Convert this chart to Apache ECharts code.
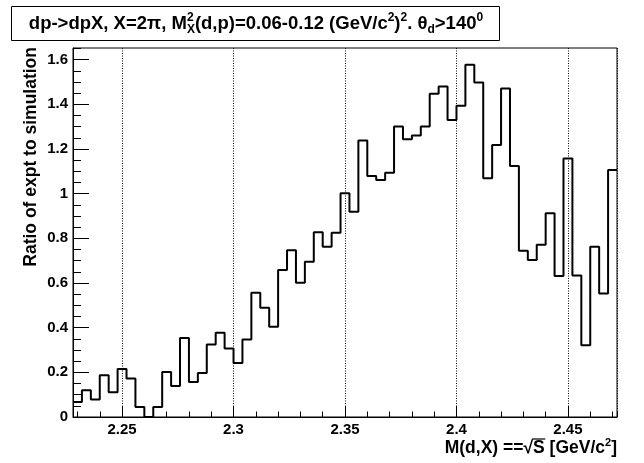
<!DOCTYPE html>
<html>
<head>
<meta charset="utf-8">
<script src="https://cdn.jsdelivr.net/npm/echarts@6/dist/echarts.min.js"></script>
<style>html,body{margin:0;padding:0;background:#fff;}#c{width:644px;height:463px;}</style>
</head>
<body>
<div id="c"></div>
<script>
// Histogram definition: range and bin width along M(d,X)
const xMin = 2.228;
const xMax = 2.472;
const binWidth = 0.004;
// Ratio of expt to simulation, one value per bin (61 bins)
const ratioValues = [
  0.067, 0.120, 0.078, 0.187, 0.111, 0.215, 0.172, 0.045, 0.000, 0.045,
  0.202, 0.139, 0.354, 0.157, 0.197, 0.325, 0.377, 0.307, 0.242, 0.347,
  0.556, 0.489, 0.404, 0.658, 0.747, 0.601, 0.695, 0.827, 0.762, 0.825,
  1.002, 0.919, 1.238, 1.079, 1.061, 1.094, 1.300, 1.244, 1.260, 1.300,
  1.447, 1.480, 1.330, 1.393, 1.577, 1.498, 1.069, 1.218, 1.471, 1.124,
  0.744, 0.703, 0.771, 0.912, 0.631, 1.157, 0.634, 0.321, 0.762, 0.553,
  1.106
];
const yMin = 0;
const yMax = 1.652;
const xLabelStep = 0.05;
const yLabelStep = 0.2;

const FONT = "'Liberation Sans', Arial, Helvetica, sans-serif";

// step line points at bin low edges, plus closing point at the upper edge
const histPoints = ratioValues.map((v, i) => [xMin + i * binWidth, v]);
histPoints.push([xMax, ratioValues[ratioValues.length - 1]]);

function isMult(v, step) {
  const r = v / step;
  return Math.abs(r - Math.round(r)) < 1e-6;
}
function fmt(v) { return String(Number(v.toFixed(3))); }

const mctx = document.createElement('canvas').getContext('2d');
function tw(txt, size) { mctx.font = 'bold ' + size + 'px ' + FONT; return mctx.measureText(txt).width; }

// title pieces: [text, size]
const T_MAIN = 18.5, T_SMALL = 12, T_CX = 256, T_CY = 24;
const titlePieces = [
  ['dp->dpX, X=2π, M', T_MAIN], ['X', T_SMALL], ['(d,p)=0.06-0.12 (GeV/c', T_MAIN], ['2', T_SMALL],
  [')', T_MAIN], ['2', T_SMALL], ['. θ', T_MAIN], ['d', T_SMALL], ['>140', T_MAIN], ['0', T_SMALL]
];
const titleWidth = titlePieces.reduce((s, p) => s + tw(p[0], p[1]), 0);
const stackX = T_CX - titleWidth / 2 + tw(titlePieces[0][0], T_MAIN);

// x title: place the bar of the radical over S
const XT_SIZE = 17.5, XT_SUP = 11, XT_RIGHT = 617, XT_Y = 448;
const sRight = XT_RIGHT - (tw(' [GeV/c', XT_SIZE) + tw('2', XT_SUP) + tw(']', XT_SIZE));
const sLeft = sRight - tw('S', XT_SIZE);

const chart = echarts.init(document.getElementById('c'), null, {renderer: 'canvas'});
const labelStyle = {color: '#000', fontFamily: FONT, fontWeight: 'bold', fontSize: 15};

const option = {
  animation: false,
  backgroundColor: '#fff',
  grid: {left: 73, top: 48, width: 544, height: 369, show: true, borderColor: '#000', borderWidth: 1, backgroundColor: 'transparent', containLabel: false},
  xAxis: [
    {
      type: 'value', min: xMin, max: xMax, splitNumber: 5, position: 'bottom',
      axisLine: {show: true, onZero: false, lineStyle: {color: '#000', width: 1}},
      axisTick: {show: true, inside: true, length: 11, lineStyle: {color: '#000', width: 1}},
      axisLabel: Object.assign({margin: 5, showMinLabel: false, showMaxLabel: false,
        formatter: v => isMult(v, xLabelStep) ? fmt(v) : ''}, labelStyle),
      splitLine: {show: true, lineStyle: {color: '#000', width: 1, type: [1, 1.5]}}
    },
    {
      type: 'value', min: xMin, max: xMax, splitNumber: 24, position: 'bottom',
      axisLine: {show: false, onZero: false},
      axisTick: {show: true, inside: true, length: 5.5, lineStyle: {color: '#000', width: 1}},
      axisLabel: {show: false},
      splitLine: {show: false}
    }
  ],
  yAxis: [
    {
      type: 'value', min: yMin, max: yMax, interval: yLabelStep, position: 'left',
      axisLine: {show: true, onZero: false, lineStyle: {color: '#000', width: 1}},
      axisTick: {show: true, inside: true, length: 16, lineStyle: {color: '#000', width: 1}},
      axisLabel: Object.assign({margin: 5, showMaxLabel: false,
        formatter: v => isMult(v, yLabelStep) ? fmt(v) : ''}, labelStyle),
      splitLine: {show: false}
    },
    {
      type: 'value', min: yMin, max: yMax, interval: 0.05, position: 'left',
      axisLine: {show: false, onZero: false},
      axisTick: {show: true, inside: true, length: 8, lineStyle: {color: '#000', width: 1}},
      axisLabel: {show: false},
      splitLine: {show: false}
    }
  ],
  series: [{
    type: 'line', step: 'end', xAxisIndex: 0, yAxisIndex: 0,
    data: histPoints, symbol: 'none', showSymbol: false,
    lineStyle: {color: '#000', width: 2}, z: 5, clip: true
  }],
  graphic: [
    {type: 'rect', shape: {x: 11.5, y: 6.5, width: 488, height: 34}, style: {fill: '#fff', stroke: '#000', lineWidth: 1}, z: 10},
    {type: 'text', x: T_CX, y: T_CY, z: 11, style: {
      text: 'dp->dpX, X=2π, M{sub|X}(d,p)=0.06-0.12 (GeV/c{sup|2}){sup|2}. θ{sub|d}>140{sup|0}',
      fontFamily: FONT, fontWeight: 'bold', fontSize: T_MAIN, lineHeight: 24, fill: '#000',
      align: 'center', verticalAlign: 'middle',
      rich: {
        sup: {fontFamily: FONT, fontWeight: 'bold', fontSize: T_SMALL, lineHeight: 12, verticalAlign: 'top', fill: '#000'},
        sub: {fontFamily: FONT, fontWeight: 'bold', fontSize: T_SMALL, lineHeight: 12, verticalAlign: 'bottom', fill: '#000'}
      }
    }},
    {type: 'text', x: stackX, y: T_CY - 6, z: 11, style: {
      text: '2', fontFamily: FONT, fontWeight: 'bold', fontSize: T_SMALL, fill: '#000',
      align: 'left', verticalAlign: 'middle'
    }},
    {type: 'text', x: XT_RIGHT, y: XT_Y, z: 11, style: {
      text: 'M(d,X) ==√S [GeV/c{sup|2}]',
      fontFamily: FONT, fontWeight: 'bold', fontSize: XT_SIZE, lineHeight: 22, fill: '#000',
      align: 'right', verticalAlign: 'middle',
      rich: {sup: {fontFamily: FONT, fontWeight: 'bold', fontSize: XT_SUP, lineHeight: 11, verticalAlign: 'top', fill: '#000'}}
    }},
    {type: 'line', z: 11, shape: {x1: sLeft - 1, y1: XT_Y - 9, x2: sRight + 0.5, y2: XT_Y - 9}, style: {stroke: '#000', lineWidth: 1.2}},
    {type: 'text', x: 31, y: 47, rotation: Math.PI / 2, z: 11, style: {
      text: 'Ratio of expt to simulation',
      fontFamily: FONT, fontWeight: 'bold', fontSize: 17.5, fill: '#000',
      align: 'right', verticalAlign: 'middle'
    }}
  ]
};
chart.setOption(option);
</script>
</body>
</html>
